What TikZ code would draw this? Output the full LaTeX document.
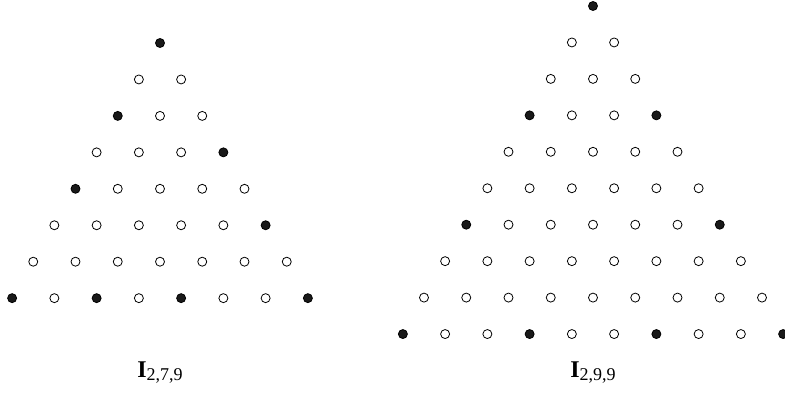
\documentclass[tikz,border=0pt]{standalone}
\usepackage{fontspec}
\setmainfont{Liberation Serif}
\newcommand{\dotdx}{42.25}
\newcommand{\dotdy}{36.45}
\newcommand{\idx}[1]{\raisebox{-3.5pt}{\fontsize{18}{21}\selectfont #1}}
\begin{document}
\begin{tikzpicture}[x=1pt,y=1pt,
pt/.style={circle,draw=black,line width=0.8pt,inner sep=0pt,minimum size=9pt},
full/.style={pt,fill=black!90},
empty/.style={pt,fill=white},
lbl/.style={anchor=base,inner sep=0pt,font=\fontsize{24}{28}\selectfont}]
\useasboundingbox (0,0) rectangle (785,392);
% left triangle, apex at (160,349), 8 rows
\foreach \r in {0,...,7}{
  \foreach \k in {0,...,\r}{
    \gdef\sty{empty}
    \foreach \a/\b in {0/0,2/0,3/3,4/0,5/5,7/0,7/2,7/4,7/7}{\ifnum\a=\r\relax\ifnum\b=\k\relax\gdef\sty{full}\fi\fi}
    \node[\sty] (L-\r-\k) at ({160+(\k-\r/2)*\dotdx},{349-\r*\dotdy}) {};
  }
}
% right triangle, apex at (593,386), 10 rows
\foreach \r in {0,...,9}{
  \foreach \k in {0,...,\r}{
    \gdef\sty{empty}
    \foreach \a/\b in {0/0,3/0,3/3,6/0,6/6,9/0,9/3,9/6,9/9}{\ifnum\a=\r\relax\ifnum\b=\k\relax\gdef\sty{full}\fi\fi}
    \node[\sty] (R-\r-\k) at ({593+(\k-\r/2)*\dotdx},{386-\r*\dotdy}) {};
  }
}
\node[lbl] (lblL) at (160,15) {\textbf{I}\idx{2,7,9}};
\node[lbl] (lblR) at (593,15) {\textbf{I}\idx{2,9,9}};
\end{tikzpicture}
\end{document}
